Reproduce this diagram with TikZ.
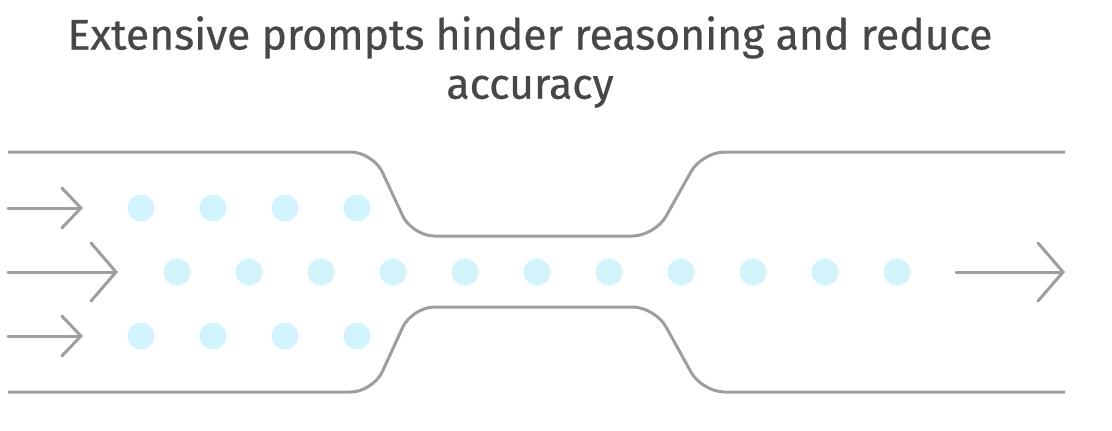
\documentclass[tikz,border=0pt]{standalone}
\usepackage{fontspec}
\setmainfont{Fira Sans}
\newfontfamily\titlefont{Fira Sans}[UprightFeatures={FakeBold=0.6}]
\usepackage{tikz}
\usetikzlibrary{arrows.meta, positioning}
\definecolor{WallGray}{HTML}{9E9E9E}
\definecolor{TitleGray}{HTML}{474747}
\definecolor{TokenCyan}{HTML}{D3F4FC}
\tikzset{
    wall/.style={draw=WallGray, line width=0.06cm, rounded corners=0.45cm},
    token/.style={circle, fill=TokenCyan, minimum size=0.54cm, inner sep=0pt},
    inarrow/.style={draw=WallGray, line width=0.06cm, line cap=round, -{Straight Barb[length=0.38cm, width=0.8cm, line cap=round]}},
    bigarrow/.style={inarrow, -{Straight Barb[length=0.5cm, width=1.16cm, line cap=round]}},
    title/.style={text=TitleGray, align=center, font=\titlefont\fontsize{24.3}{28}\selectfont}
}

\begin{document}
\begin{tikzpicture}[x=0.02cm, y=-0.02cm]
    \useasboundingbox (0,0) rectangle (1112,430);

    \node[title] (title) at (530,62) {Extensive prompts hinder reasoning and reduce\\accuracy};

    % channel walls
    \draw[wall] (8,152) -- (373,152) -- (412,236) -- (655,236) -- (702,152) -- (1065,152);
    \draw[wall] (8,392) -- (373,392) -- (412,307) -- (655,307) -- (702,392) -- (1065,392);

    % tokens
    \foreach \i in {1,...,4} {
        \node[token] (t\i) at ({141+72*(\i-1)},208) {};
        \node[token] (b\i) at ({141+72*(\i-1)},336) {};
    }
    \foreach \i in {1,...,11}
        \node[token] (m\i) at ({177+72*(\i-1)},272) {};

    % arrows
    \coordinate (topin) at (8,208);
    \coordinate (topend) at (83,208);
    \coordinate (midin) at (8,272);
    \coordinate (midend) at (118,272);
    \coordinate (botin) at (8,336);
    \coordinate (botend) at (83,336);
    \coordinate (outstart) at (956,272);
    \coordinate (outend) at (1065,272);

    \draw[inarrow] (topin) -- (topend);
    \draw[bigarrow] (midin) -- (midend);
    \draw[inarrow] (botin) -- (botend);
    \draw[bigarrow] (outstart) -- (outend);
\end{tikzpicture}
\end{document}
